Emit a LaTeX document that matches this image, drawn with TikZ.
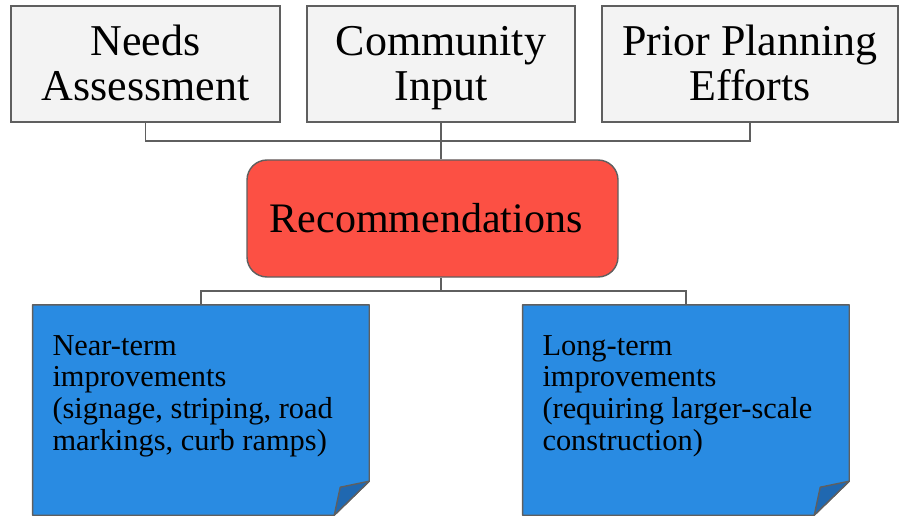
\documentclass[tikz,border=0pt]{standalone}
\usepackage{fontspec}
\setmainfont{Liberation Serif}
\definecolor{boxgray}{HTML}{F3F3F3}
\definecolor{edgegray}{HTML}{5F5F5F}
\definecolor{recred}{HTML}{FC5044}
\definecolor{noteblue}{HTML}{298BE2}
\definecolor{folddark}{HTML}{2068B0}
\tikzset{
  topbox/.style={draw=edgegray, fill=boxgray, line width=1.4pt, minimum height=116pt, inner sep=0pt},
  toptext/.style={font=\fontsize{44}{45}\selectfont, align=center, inner sep=0pt, anchor=north},
  recbox/.style={draw=edgegray, fill=recred, line width=1.4pt, rounded corners=20pt, minimum width=371pt, minimum height=117pt, inner sep=0pt},
  rectext/.style={font=\fontsize{42}{45}\selectfont, inner sep=0pt, anchor=base},
  noteframe/.style={draw=none, inner sep=0pt, minimum height=210pt},
  notefill/.style={draw=edgegray, fill=noteblue, line width=1.4pt, line join=round},
  foldfill/.style={draw=edgegray, fill=folddark, line width=1.4pt, line join=round},
  notetext/.style={font=\fontsize{30.4}{31.7}\selectfont, align=left, inner sep=0pt, anchor=north west},
  link/.style={draw=edgegray, line width=1.4pt}
}
\begin{document}
\begin{tikzpicture}[x=1pt, y=-1pt]
\useasboundingbox (0,0) rectangle (903,516);
% top boxes
\node[topbox, minimum width=269pt] (na) at (145.5,64) {};
\node[topbox, minimum width=268pt] (ci) at (441,64) {};
\node[topbox, minimum width=296pt] (pp) at (750,64) {};
\node[toptext] (nat) at (145.5,23.5) {\strut Needs\\\strut Assessment};
\node[toptext] (cit) at (441,23.5) {\strut Community\\\strut Input};
\node[toptext] (ppt) at (750,23.5) {\strut Prior Planning\\\strut Efforts};
% recommendations
\node[recbox] (rec) at (432.5,218.5) {};
\node[rectext] (rect) at (426,232.7) {Recommendations};
% connectors top
\coordinate (j1) at (441,141);
\draw[link] (na.south) |- (j1) -| (pp.south);
\draw[link] (ci.south) -- (ci.south |- rec.north);
% note boxes
\node[noteframe, minimum width=336.3pt] (near) at (200.9,410) {};
\node[noteframe, minimum width=326.3pt] (long) at (685.9,410) {};
\draw[notefill] (near.north west) -- (near.north east) -- ([yshift=34pt]near.south east) -- ([xshift=-35pt]near.south east) -- (near.south west) -- cycle;
\draw[foldfill] ([yshift=34pt]near.south east) -- ([xshift=-29pt,yshift=28pt]near.south east) -- ([xshift=-35pt]near.south east) -- cycle;
\draw[notefill] (long.north west) -- (long.north east) -- ([yshift=34pt]long.south east) -- ([xshift=-35pt]long.south east) -- (long.south west) -- cycle;
\draw[foldfill] ([yshift=34pt]long.south east) -- ([xshift=-29pt,yshift=28pt]long.south east) -- ([xshift=-35pt]long.south east) -- cycle;
\node[notetext] (neart) at (52.3,332.8) {\strut Near-term\\\strut improvements\\\strut (signage, striping, road\\\strut markings, curb ramps)};
\node[notetext] (longt) at (542.3,332.8) {\strut Long-term\\\strut improvements\\\strut (requiring larger-scale\\\strut construction)};
% connectors bottom
\coordinate (j2) at (441,291);
\draw[link] (ci.south |- rec.south) -- (j2);
\draw[link] (near.north) |- (j2) -| (long.north);
\end{tikzpicture}
\end{document}
